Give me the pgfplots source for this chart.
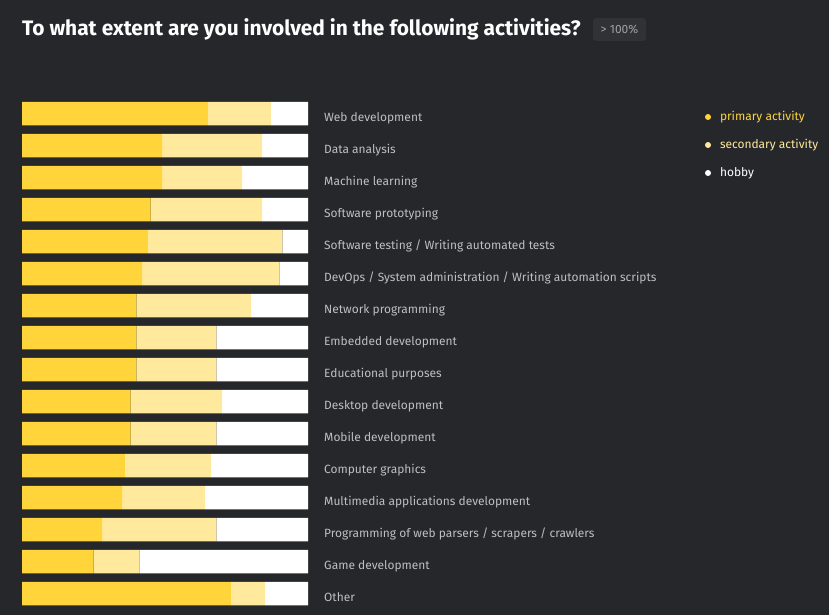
\documentclass[border=0pt]{standalone}
\usepackage{fontspec}
\setmainfont{Fira Sans}
\usepackage{pgfplots}
\pgfplotsset{compat=1.18}
\definecolor{bg}{RGB}{38,39,43}
\definecolor{prim}{RGB}{255,213,59}
\definecolor{sec}{RGB}{255,233,156}
\definecolor{lab}{RGB}{190,191,195}
\definecolor{badge}{RGB}{49,50,54}
\definecolor{badgetxt}{RGB}{158,160,165}
\begin{document}
\begin{tikzpicture}[x=1bp,y=1bp]
\fill[bg] (0,0) rectangle (829,-615);
\node[anchor=base west, inner sep=0pt, text=white, font=\bfseries\fontsize{21}{25}\selectfont] at (22,-35.5) {To what extent are you involved in the following activities?};
\fill[badge, rounded corners=3bp] (593,-18) rectangle (646,-41);
\node[anchor=base, inner sep=0pt, text=badgetxt, font=\fontsize{12}{14}\selectfont] at (619.5,-33.5) {> 100\%};
\begin{axis}[
  at={(22bp,-97.5bp)}, anchor=north west,
  scale only axis, width=286bp, height=512bp,
  xbar stacked, bar width=23.5bp,
  xmin=0, xmax=100, ymin=-0.5, ymax=15.5, y dir=reverse,
  axis line style={draw=none},
  xtick=\empty,
  ytick={0,...,15},
  yticklabels={Web development, Data analysis, Machine learning, Software prototyping, Software testing / Writing automated tests, DevOps / System administration / Writing automation scripts, Network programming, Embedded development, Educational purposes, Desktop development, Mobile development, Computer graphics, Multimedia applications development, Programming of web parsers / scrapers / crawlers, Game development, Other},
  yticklabel pos=right,
  major tick length=0pt,
  yticklabel style={anchor=base west, inner sep=0pt, xshift=16bp, yshift=-8.3bp, text=lab, font=\fontsize{12}{15}\selectfont},
  legend style={at={(1,1)}, anchor=north west, xshift=397bp, yshift=-13.5bp, draw=none, fill=none, inner sep=0pt, outer sep=0pt, row sep=16bp, column sep=9bp, nodes={inner sep=0pt, text height=9bp, text depth=3bp, font=\fontsize{12}{15}\selectfont}},
  legend cell align=left,
  legend image code/.code={\fill[#1] (3bp,0bp) circle (3bp);},
]
\addplot[draw=none, fill=prim] coordinates {(65,0) (49,1) (49,2) (45,3) (44,4) (42,5) (40,6) (40,7) (40,8) (38,9) (38,10) (36,11) (35,12) (28,13) (25,14) (73,15)};
\addlegendentry{\textcolor{prim}{primary activity}}
\addplot[draw=none, fill=sec] coordinates {(22,0) (35,1) (28,2) (39,3) (47,4) (48,5) (40,6) (28,7) (28,8) (32,9) (30,10) (30,11) (29,12) (40,13) (16,14) (12,15)};
\addlegendentry{\textcolor{sec}{secondary activity}}
\addplot[draw=none, fill=white] coordinates {(13,0) (16,1) (23,2) (16,3) (9,4) (10,5) (20,6) (32,7) (32,8) (30,9) (32,10) (34,11) (36,12) (32,13) (59,14) (15,15)};
\addlegendentry{\textcolor{white}{hobby}}
\end{axis}
\end{tikzpicture}
\end{document}
